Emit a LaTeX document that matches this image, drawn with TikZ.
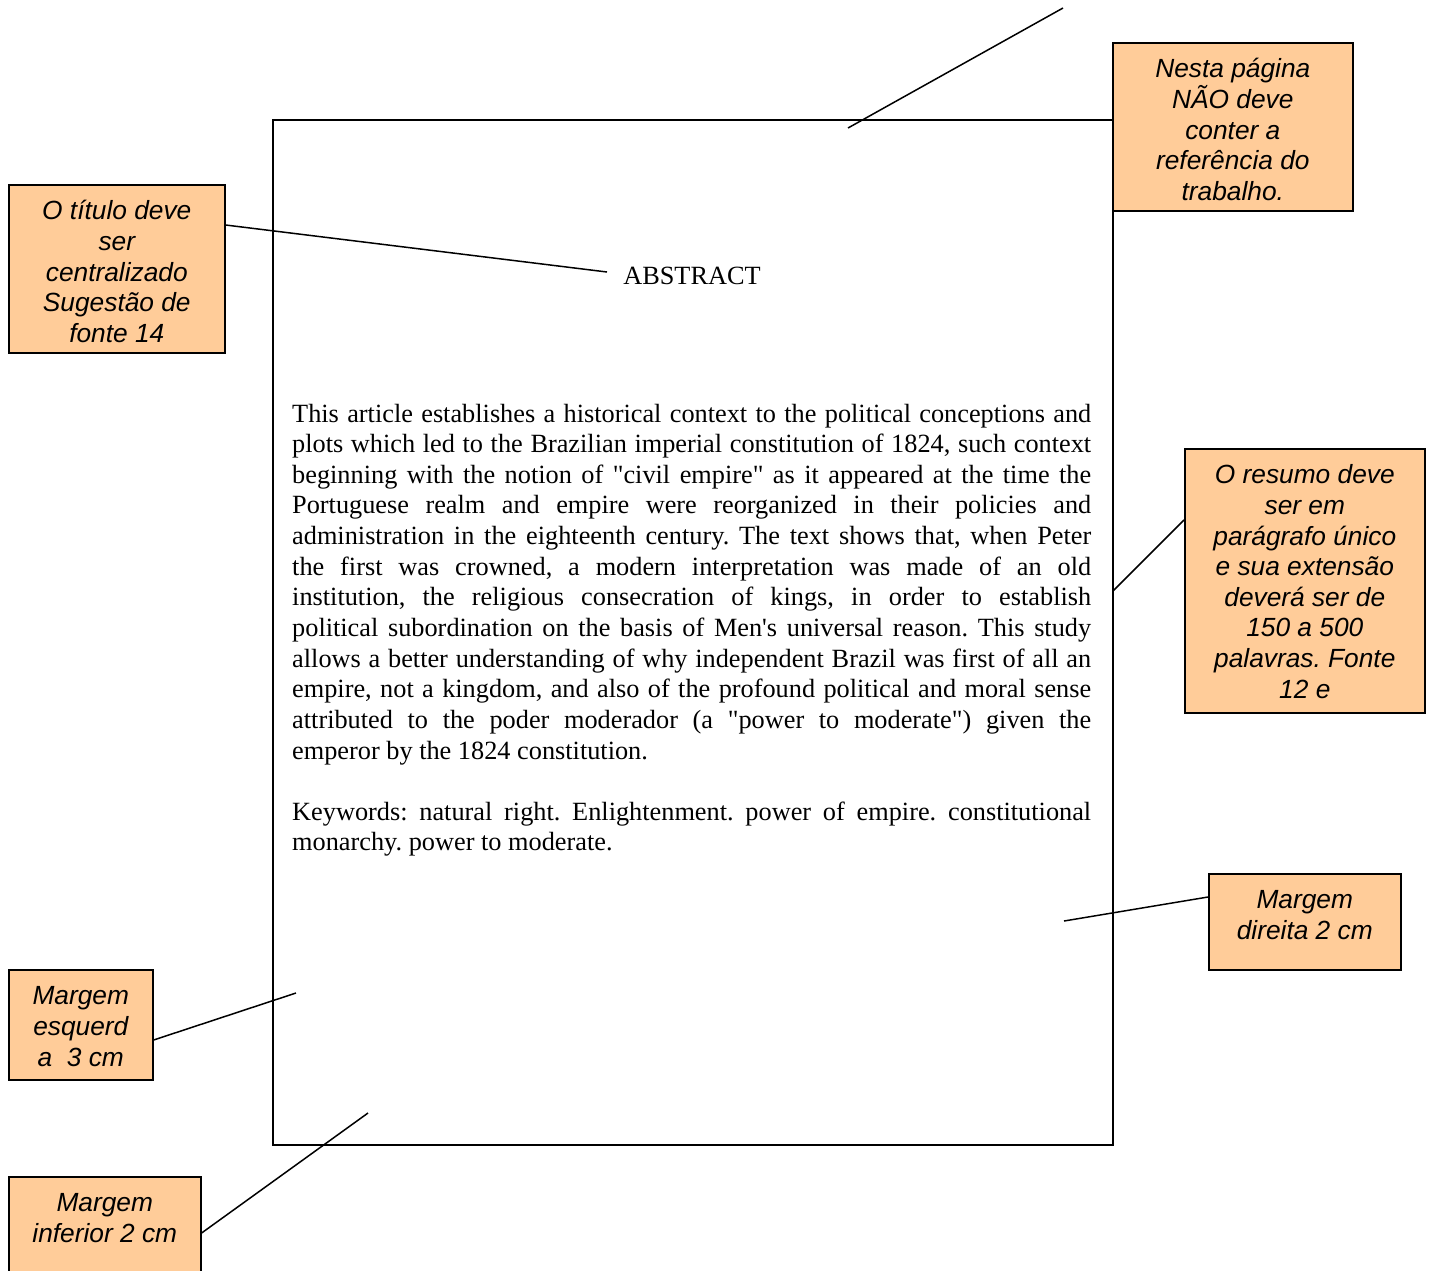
\documentclass[tikz,border=0pt]{standalone}
\usepackage{fontspec}
\setmainfont{Liberation Serif}
\newfontfamily\notefont{Liberation Sans}
\usetikzlibrary{calc}
\definecolor{notefill}{HTML}{FFCC99}
\frenchspacing

% text of a note box: fixed-size box, lines centred, first baseline 35pt below the top
\newcommand\notebody[3]{%
  \parbox[t][#2][t]{#1}{\centering\notefont\itshape\fontsize{26.3}{30.6}\selectfont
    \rule{0pt}{35pt}#3\par}}

\begin{document}
\begin{tikzpicture}[x=1pt,y=-1pt,
  note/.style={draw=black, fill=notefill, line width=1.6pt, inner sep=0pt, anchor=north west},
  leader/.style={line width=1.5pt},
  sheet/.style={draw=black, line width=1.6pt, inner sep=0pt, anchor=north west,
    minimum width=840pt, minimum height=1025pt},
  bodytext/.style={inner sep=0pt, anchor=base west, text width=799pt, align=justify,
    font=\fontsize{26.3}{30.64}\selectfont}]
\useasboundingbox (0,0) rectangle (1432,1270);
\clip (0,0) rectangle (1432,1270);

% the page
\node[sheet] (page) at (272,119) {};

% heading and abstract
\node[inner sep=0pt, anchor=base, font=\fontsize{26.3}{30.64}\selectfont] (heading) at (692,284) {ABSTRACT};

\node[bodytext] (body) at (292,422) {%
This article establishes a historical context to the political conceptions and\linebreak
plots which led to the Brazilian imperial constitution of 1824, such context\linebreak
beginning with the notion of \textquotedbl civil empire\textquotedbl{} as it appeared at the time the\linebreak
Portuguese realm and empire were reorganized in their policies and\linebreak
administration in the eighteenth century. The text shows that, when Peter\linebreak
the first was crowned, a modern interpretation was made of an old\linebreak
institution, the religious consecration of kings, in order to establish\linebreak
political subordination on the basis of Men\textquotesingle s universal reason. This study\linebreak
allows a better understanding of why independent Brazil was first of all an\linebreak
empire, not a kingdom, and also of the profound political and moral sense\linebreak
attributed to the poder moderador (a \textquotedbl power to moderate\textquotedbl) given the\linebreak
emperor by the 1824 constitution.};

\node[bodytext] (keywords) at (292,820.3) {%
Keywords: natural right. Enlightenment. power of empire. constitutional\linebreak
monarchy. power to moderate.};

% note boxes
\node[note] (ntitle) at (8,184) {\notebody{216pt}{168pt}{O título deve\\ser\\centralizado\\Sugestão de\\fonte 14}};
\node[note] (nref) at (1112,42) {\notebody{240pt}{168pt}{Nesta página\\NÃO deve\\conter a\\referência do\\trabalho.}};
\node[note] (nresumo) at (1184,448) {\notebody{240pt}{264pt}{O resumo deve\\ser em\\parágrafo único\\e sua extensão\\deverá ser de\\150 a 500\\palavras. Fonte\\12 e}};
\node[note] (ndireita) at (1208,873) {\notebody{192pt}{96pt}{Margem\\direita 2 cm}};
\node[note] (nesquerda) at (8,969) {\notebody{144pt}{110pt}{Margem\\esquerd\\a\ \ 3 cm}};
\node[note] (ninferior) at (8,1176) {\notebody{192pt}{130pt}{Margem\\inferior 2 cm}};

% free ends of the leader lines
\coordinate (ptitle) at (607,272);
\coordinate (ptopA) at (848,128);
\coordinate (ptopB) at (1063,8);
\coordinate (presumo) at (1113,591);
\coordinate (pdireita) at (1064,921);
\coordinate (pesquerda) at (296,993);
\coordinate (pinferior) at (368,1113);

% leader lines
\draw[leader] ($(ntitle.north east)+(0,41)$) -- (ptitle);
\draw[leader] (ptopA) -- (ptopB);
\draw[leader] ($(nresumo.north west)+(0,72)$) -- (presumo);
\draw[leader] ($(ndireita.north west)+(0,24)$) -- (pdireita);
\draw[leader] ($(nesquerda.north east)+(0,71)$) -- (pesquerda);
\draw[leader] ($(ninferior.north east)+(0,57)$) -- (pinferior);
\end{tikzpicture}
\end{document}
